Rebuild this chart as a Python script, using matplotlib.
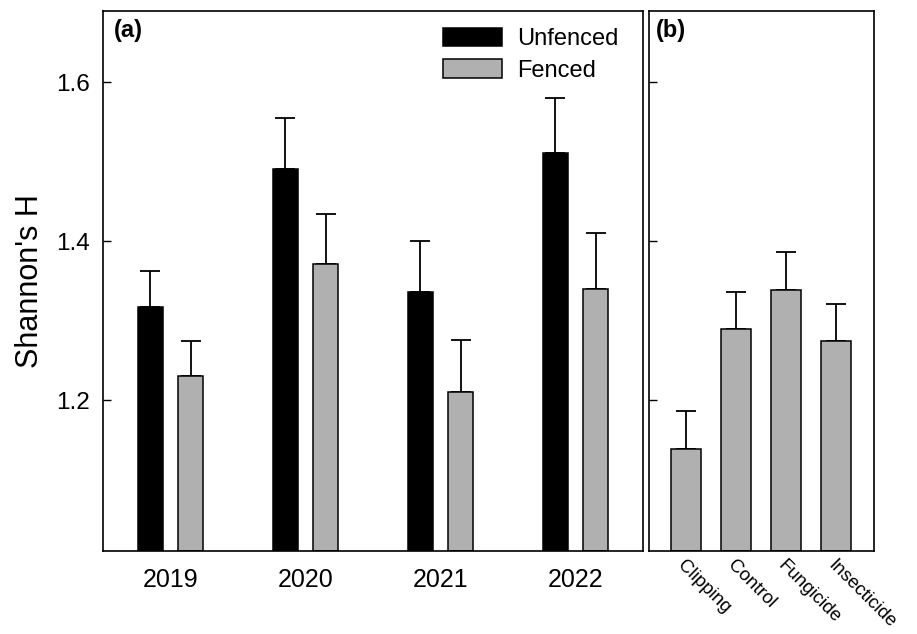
import numpy as np
import matplotlib
matplotlib.use("Agg")
import matplotlib.pyplot as plt

plt.rcParams["font.family"] = ["Liberation Sans", "DejaVu Sans"]

YEARS = ["2019", "2020", "2021", "2022"]
UNFENCED = [1.317, 1.491, 1.336, 1.511]
UNFENCED_TOP = [1.362, 1.555, 1.400, 1.580]
FENCED = [1.230, 1.371, 1.210, 1.340]
FENCED_TOP = [1.275, 1.435, 1.276, 1.410]

TREATMENTS = ["Clipping", "Control", "Fungicide", "Insecticide"]
TREAT_MEAN = [1.139, 1.289, 1.339, 1.274]
TREAT_TOP = [1.186, 1.336, 1.387, 1.321]

C_UNF = "black"
C_FEN = "#b0b0b0"
YLIM = (1.01, 1.69)
YTICKS = [1.2, 1.4, 1.6]


def _style(ax):
    for s in ax.spines.values():
        s.set_linewidth(1.2)
    ax.set_ylim(*YLIM)
    ax.set_yticks(YTICKS)
    ax.tick_params(axis="y", direction="in", length=6, width=1.0, labelsize=17.5, pad=9.5)
    ax.tick_params(axis="x", length=0, labelsize=18, pad=12)


def _bars(ax, x, vals, tops, color, w):
    vals, tops = np.array(vals), np.array(tops)
    ax.bar(x, vals - YLIM[0], w, bottom=YLIM[0], color=color, edgecolor="black",
           lw=1.1, zorder=2)
    ax.errorbar(x, vals, yerr=[np.zeros_like(vals), tops - vals], fmt="none",
                ecolor="black", elinewidth=1.3, capsize=7, capthick=1.3, zorder=1)


fig = plt.figure(figsize=(9.17, 6.34), dpi=100)
ax1 = fig.add_axes([0.1123, 0.1309, 0.5889, 0.8517])
ax2 = fig.add_axes([0.7077, 0.1309, 0.2454, 0.8517])

x = np.arange(len(YEARS))
w, off = 0.185, 0.15
_bars(ax1, x - off, UNFENCED, UNFENCED_TOP, C_UNF, w)
_bars(ax1, x + off, FENCED, FENCED_TOP, C_FEN, w)
_style(ax1)
ax1.set_xlim(-0.5, 3.5)
ax1.set_xticks(x)
ax1.set_xticklabels(YEARS)
ax1.set_ylabel("Shannon's H", fontsize=22, labelpad=8)
ax1.text(0.02, 0.985, "(a)", transform=ax1.transAxes, ha="left", va="top",
         fontsize=17, fontweight="bold")
h1 = plt.Rectangle((0, 0), 1, 1, facecolor=C_UNF, edgecolor="black", lw=1.1)
h2 = plt.Rectangle((0, 0), 1, 1, facecolor=C_FEN, edgecolor="black", lw=1.1)
ax1.legend([h1, h2], ["Unfenced", "Fenced"], loc="upper right", frameon=False,
           fontsize=17, handlelength=2.5, handleheight=0.85, labelspacing=0.38,
           handletextpad=0.65, bbox_to_anchor=(0.985, 1.0), borderaxespad=0.3)

x2 = np.arange(len(TREATMENTS))
_bars(ax2, x2, TREAT_MEAN, TREAT_TOP, C_FEN, 0.6)
_style(ax2)
ax2.set_xlim(-0.75, 3.75)
ax2.set_xticks(x2)
ax2.set_xticklabels(TREATMENTS, rotation=-45, ha="left", va="top",
                    rotation_mode="anchor", fontsize=13.5)
ax2.tick_params(axis="x", pad=4)
ax2.set_yticklabels([])
ax2.text(0.03, 0.985, "(b)", transform=ax2.transAxes, ha="left", va="top",
         fontsize=17, fontweight="bold")

fig.savefig("out.png", dpi=100)
